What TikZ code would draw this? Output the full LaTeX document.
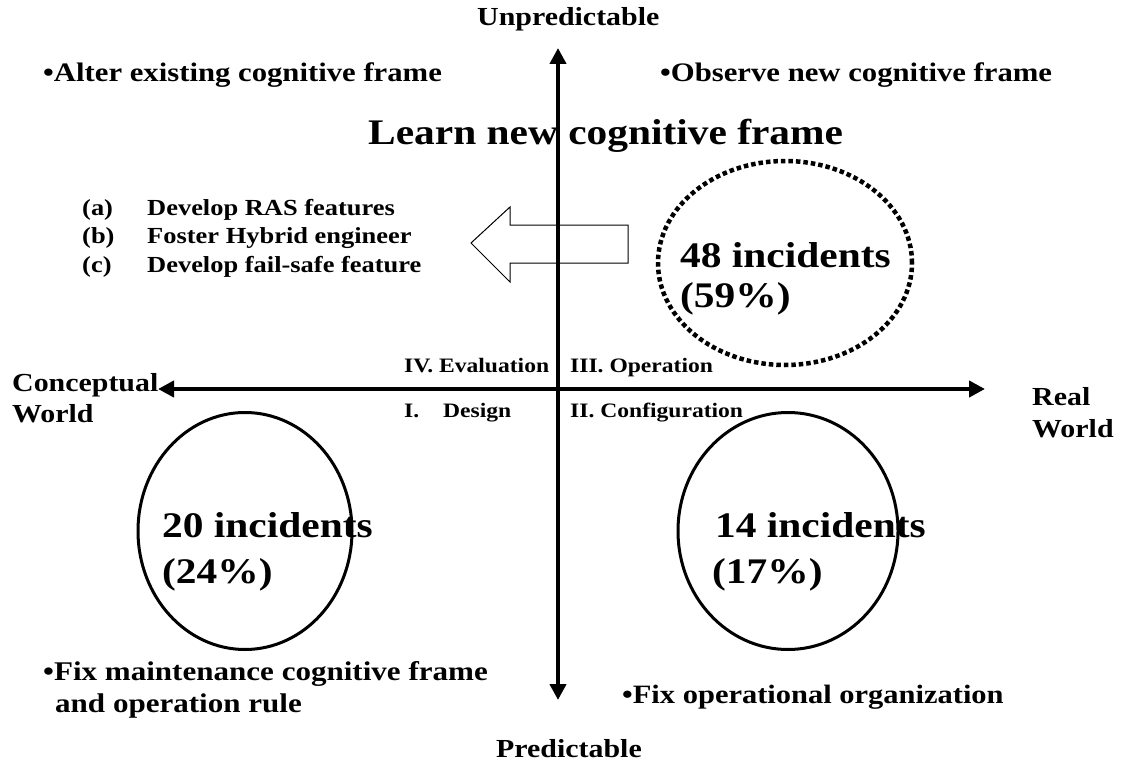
\documentclass[tikz,border=0pt]{standalone}
\usepackage{fontspec}
\setmainfont{Liberation Serif}[FakeStretch=1.15]
\usetikzlibrary{arrows.meta,shapes.geometric}
\newcommand{\szf}[1]{\fontsize{#1}{#1}\selectfont}

\begin{document}
\begin{tikzpicture}[x=1pt,y=-1pt,>={Triangle[length=16pt,width=16pt]},
 lbl/.style={inner sep=0pt,anchor=base west,font=\bfseries},
 axis/.style={line width=4.5pt,<->},
 ring/.style={draw,ellipse,line width=3pt,inner sep=0pt}]
 \useasboundingbox (0,0) rectangle (1124,765);
 % incident rings
 \node[ring,line width=4.5pt,dash pattern=on 4.5pt off 3pt,minimum width=254,minimum height=204] (dotring) at (785,263) {};
 \node[ring,minimum width=214,minimum height=237] (lring) at (245,531) {};
 \node[ring,minimum width=220,minimum height=237] (rring) at (788,531) {};
 % block arrow
 \draw[fill=white,line width=1pt] (628,225) -- (510,225) -- (510,207) -- (471,243)
  -- (510,282) -- (510,263) -- (628,263) -- cycle;
 % axes
 \coordinate (up) at (558,48);
 \coordinate (down) at (558,700);
 \coordinate (left) at (158,389);
 \coordinate (right) at (985,389);
 \draw[axis] (down) -- (up);
 \draw[axis] (left) -- (right);
 % axis labels
 \node[lbl] (unpred) at (477,26) {\szf{26}Unpredictable};
 \node[lbl] (pred) at (496,757) {\szf{26}Predictable};
 \node[lbl] (concept) at (12,391) {\szf{26}Conceptual};
 \node[lbl] (conceptw) at (12,422) {\szf{26}World};
 \node[lbl] (real) at (1032,405) {\szf{26}Real};
 \node[lbl] (realw) at (1032,437) {\szf{26}World};
 % quadrants
 \node[lbl] (qiv) at (404,372) {\szf{20.5}IV. Evaluation};
 \node[lbl] (qiii) at (570,372) {\szf{20.5}III. Operation};
 \node[lbl] (qi) at (404,417) {\szf{20.5}\makebox[39pt][l]{I.}Design};
 \node[lbl] (qii) at (570,417) {\szf{20.5}II. Configuration};
 % actions
 \node[lbl] (alter) at (43,82) {\szf{26.7}•Alter existing cognitive frame};
 \node[lbl] (observe) at (660,82) {\szf{26.7}•Observe new cognitive frame};
 \node[lbl] (learn) at (368,145) {\szf{36}Learn new cognitive frame};
 \node[lbl] (itema) at (82,215) {\szf{23}\makebox[65pt][l]{(a)}Develop RAS features};
 \node[lbl] (itemb) at (82,243) {\szf{23}\makebox[65pt][l]{(b)}Foster Hybrid engineer};
 \node[lbl] (itemc) at (82,272) {\szf{23}\makebox[65pt][l]{(c)}Develop fail-safe feature};
 \node[lbl] (fixm) at (43,680) {\szf{27}•Fix maintenance cognitive frame};
 \node[lbl] (fixr) at (55,712) {\szf{27}and operation rule};
 \node[lbl] (fixo) at (622,703) {\szf{26.5}•Fix operational organization};
 % incident counts
 \node[lbl] (n48) at (680,267) {\szf{36}48 incidents};
 \node[lbl] (p59) at (680,307) {\szf{36}(59\%)};
 \node[lbl] (n20) at (162,537) {\szf{36}20 incidents};
 \node[lbl] (p24) at (162,583) {\szf{36}(24\%)};
 \node[lbl] (n14) at (715,537) {\szf{36}14 incidents};
 \node[lbl] (p17) at (712,583) {\szf{36}(17\%)};
\end{tikzpicture}
\end{document}
